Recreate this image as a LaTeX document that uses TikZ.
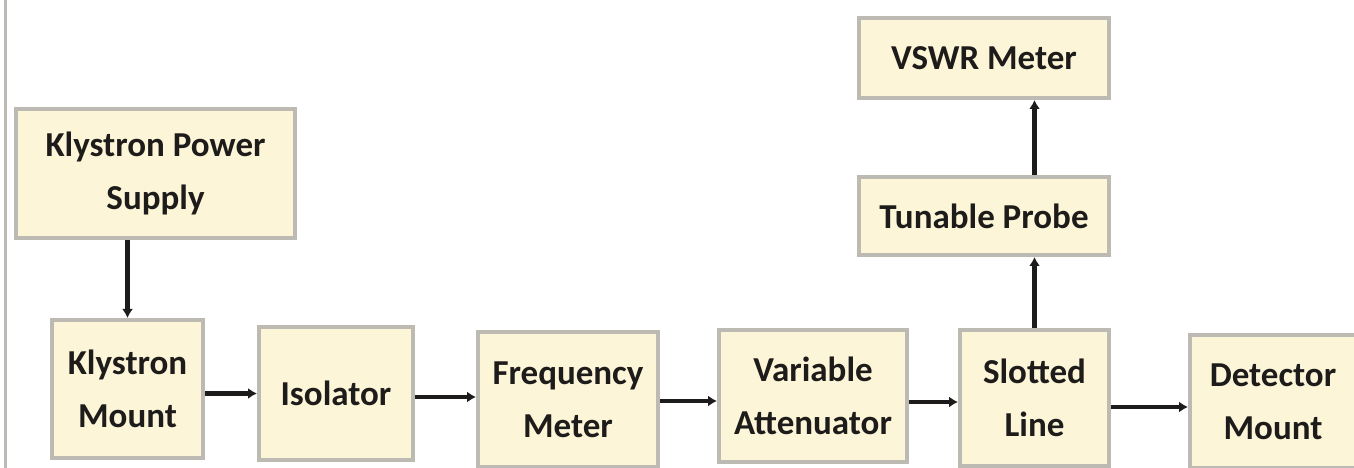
\documentclass[tikz,border=0pt]{standalone}
\usepackage{fontspec}
\setmainfont{Carlito}
\usepackage{xcolor}
\usetikzlibrary{arrows.meta}
\definecolor{boxfill}{RGB}{252,245,216}
\definecolor{boxline}{RGB}{188,186,178}
\definecolor{inkcol}{RGB}{30,28,26}

\begin{document}
\begin{tikzpicture}[x=1pt,y=1pt,
  block/.style={draw=boxline,fill=boxfill,line width=4pt,inner sep=0pt,
    align=center,text=inkcol,font=\fontsize{35}{53}\selectfont\bfseries},
  arr/.style={draw=inkcol,line width=4.5pt,-{Latex[length=9pt,width=11pt]}}]
\useasboundingbox (0,0) rectangle (1354,468);
\draw[boxline,line width=3pt] (5,0) -- (5,468);

% blocks
\node[block,minimum width=279pt,minimum height=129pt] (kps) at (155.5,294.5) {Klystron Power\\Supply};
\node[block,minimum width=151pt,minimum height=138pt] (km) at (127.5,79) {Klystron\\Mount};
\node[block,minimum width=154pt,minimum height=133pt] (iso) at (336,74.5) {Isolator};
\node[block,minimum width=180pt,minimum height=135pt] (fm) at (568,68) {Frequency\\Meter};
\node[block,minimum width=188pt,minimum height=132pt] (va) at (813,72) {Variable\\Attenuator};
\node[block,minimum width=149pt,minimum height=136pt] (sl) at (1034.5,70) {Slotted\\Line};
\node[block,minimum width=166pt,minimum height=133pt] (dm) at (1273,66.5) {Detector\\Mount};
\node[block,minimum width=250pt,minimum height=78pt] (tp) at (984,252) {Tunable Probe};
\node[block,minimum width=250pt,minimum height=80pt] (vs) at (984,410) {VSWR Meter};

% connections
\draw[arr] (kps.south -| km) -- (km.north);
\draw[arr] (km.east |- iso) -- (iso.west);
\draw[arr] (iso.east |- 0,71) -- (fm.west |- 0,71);
\draw[arr] (fm.east |- 0,67) -- (va.west |- 0,67);
\draw[arr] (va.east |- 0,66) -- (sl.west |- 0,66);
\draw[arr] (sl.east |- 0,61) -- (dm.west |- 0,61);
\draw[arr] (sl.north) -- (sl.north |- tp.south);
\draw[arr] (sl.north |- tp.north) -- (sl.north |- vs.south);
\end{tikzpicture}
\end{document}
